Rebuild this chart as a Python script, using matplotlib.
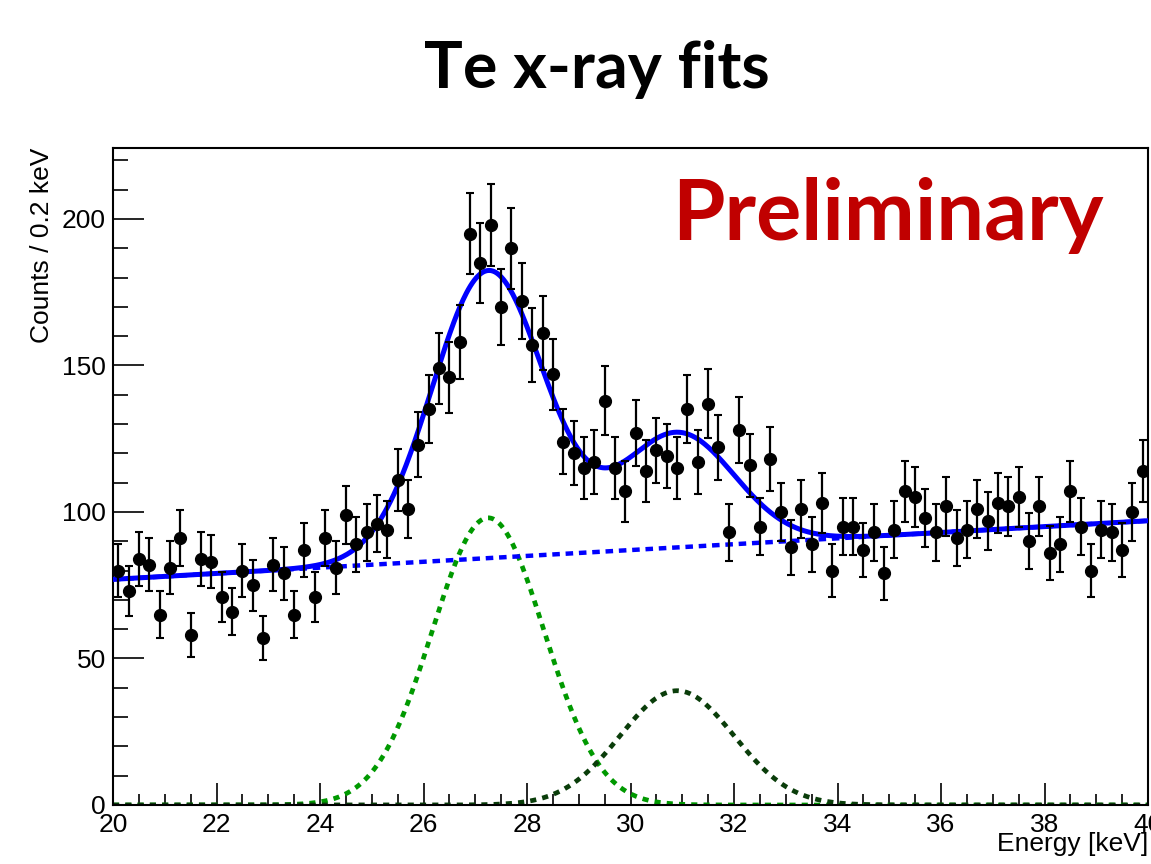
import matplotlib
matplotlib.use("Agg")
import matplotlib.pyplot as plt
import numpy as np

# binned data, 0.2 keV bins from 20 to 40 keV
bin_lo, bin_hi, bin_w = 20.0, 40.0, 0.2
counts = [80, 73, 84, 82, 65, 81, 91, 58, 84, 83,
          71, 66, 80, 75, 57, 82, 79, 65, 87, 71,
          91, 81, 99, 89, 93, 96, 94, 111, 101, 123,
          135, 149, 146, 158, 195, 185, 198, 170, 190, 172,
          157, 161, 147, 124, 120, 115, 117, 138, 115, 107,
          127, 114, 121, 119, 115, 135, 117, 137, 122, 93,
          128, 116, 95, 118, 100, 88, 101, 89, 103, 80,
          95, 95, 87, 93, 79, 94, 107, 105, 98, 93,
          102, 91, 94, 101, 97, 103, 102, 105, 90, 102,
          86, 89, 107, 95, 80, 94, 93, 87, 100, 114]

# fit model parameters (linear background + two gaussians)
bkg_a, bkg_b = 77.0, 1.0          # value at 20 keV, slope per keV
g1_amp, g1_mu, g1_sig = 98.0, 27.25, 1.08
g2_amp, g2_mu, g2_sig = 39.0, 30.9, 1.1

font = "Liberation Sans"

fig = plt.figure(figsize=(11.51, 8.64), dpi=100)
ax = fig.add_axes([113/1151, 1-805/864, (1148-113)/1151, (805-148)/864])

centers = bin_lo + bin_w/2 + bin_w*np.arange(len(counts))
y = np.array(counts, dtype=float)

xs = np.linspace(bin_lo, bin_hi, 1000)
bkg = bkg_a + bkg_b*(xs - bin_lo)
g1 = g1_amp*np.exp(-0.5*((xs - g1_mu)/g1_sig)**2)
g2 = g2_amp*np.exp(-0.5*((xs - g2_mu)/g2_sig)**2)

ax.plot(xs, g1, color="#009900", lw=3.4, dashes=(1.3, 1.3), zorder=2)
ax.plot(xs, g2, color="#0a3d0a", lw=3.4, dashes=(1.3, 1.3), zorder=2)
ax.plot(xs, bkg, color="#0000ff", lw=3.2, dashes=(1.7, 1.3), zorder=3)
ax.plot(xs, bkg + g1 + g2, color="#0000ff", lw=3.6, zorder=4)

ax.errorbar(centers, y, yerr=np.sqrt(y), fmt="o", color="black", ms=8.5,
            elinewidth=1.6, capsize=3, capthick=1.5, zorder=5)

ax.set_xlim(bin_lo, bin_hi)
ax.set_ylim(0, 224.2)
ax.set_xticks(np.arange(20, 41, 2))
ax.set_xticks(np.arange(20, 40.01, 0.5), minor=True)
ax.set_yticks([0, 50, 100, 150, 200])
ax.set_yticks(np.arange(0, 221, 10), minor=True)
ax.tick_params(axis="y", which="major", direction="in", length=22, width=1.2, pad=5)
ax.tick_params(axis="y", which="minor", direction="in", length=11, width=1.2)
ax.tick_params(axis="x", which="major", direction="in", length=16, width=1.2, pad=6)
ax.tick_params(axis="x", which="minor", direction="in", length=8, width=1.2)
for lab in ax.get_xticklabels() + ax.get_yticklabels():
    lab.set_fontname(font)
    lab.set_fontsize(19)
for s in ax.spines.values():
    s.set_linewidth(1.5)

fig.text(1148/1151, 1-851/864, "Energy [keV]", ha="right", va="baseline",
         fontname=font, fontsize=19)
fig.text(42/1151, 1-148/864, "Counts / 0.2 keV", rotation=90, ha="center", va="top",
         fontname=font, fontsize=19)

fig.text(597/1151, 1-88/864, "Te x-ray fits", ha="center", va="baseline",
         fontname="Lato", fontweight="bold", fontsize=46.5)
fig.text(672/1151, 1-240/864, "Preliminary", ha="left", va="baseline",
         fontname="Lato", fontweight="bold", fontsize=61, color="#c00000")

fig.savefig("out.png", dpi=100)
